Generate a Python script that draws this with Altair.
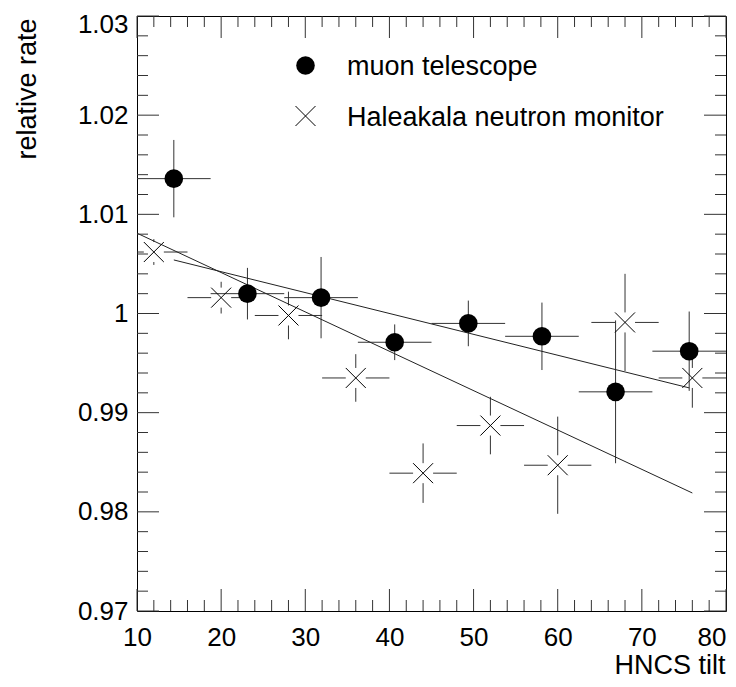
import altair as alt
import pandas as pd

# ---------------- data ----------------
muon_x = [14.375, 23.125, 31.875, 40.625, 49.375, 58.125, 66.875, 75.625]
muon_xerr = [4.375, 4.375, 4.375, 4.375, 4.375, 4.375, 4.375, 4.375]
muon_y = [1.0136, 1.0020, 1.0016, 0.9971, 0.9990, 0.9977, 0.9921, 0.9962]
muon_yerr = [0.0039, 0.0026, 0.0041, 0.0018, 0.0023, 0.0034, 0.0072, 0.0040]

neut_x = [12, 20, 28, 36, 44, 52, 60, 68, 76]
neut_xerr = [4, 4, 4, 4, 4, 4, 4, 4, 4]
neut_y = [1.0062, 1.0016, 0.9998, 0.9935, 0.9839, 0.9887, 0.9847, 0.9991, 0.9935]
neut_yerr = [0.0013, 0.0016, 0.0024, 0.0024, 0.0030, 0.0029, 0.0049, 0.0049, 0.0030]

fit_series = ["muon telescope", "Haleakala neutron monitor"]
fit_x0 = [14.375, 10.0]
fit_y0 = [1.0054, 1.0081]
fit_x1 = [75.625, 76.0]
fit_y1 = [0.9925, 0.9819]

x_major = [10, 20, 30, 40, 50, 60, 70, 80]
x_minor = [12, 14, 16, 18, 22, 24, 26, 28, 32, 34, 36, 38, 42, 44, 46, 48,
           52, 54, 56, 58, 62, 64, 66, 68, 72, 74, 76, 78]
y_major = [0.97, 0.98, 0.99, 1.00, 1.01, 1.02, 1.03]
y_minor = [0.972, 0.974, 0.976, 0.978, 0.982, 0.984, 0.986, 0.988,
           0.992, 0.994, 0.996, 0.998, 1.002, 1.004, 1.006, 1.008,
           1.012, 1.014, 1.016, 1.018, 1.022, 1.024, 1.026, 1.028]

legend_labels = ["muon telescope", "Haleakala neutron monitor"]
x_title = "HNCS tilt"
y_title = "relative rate"

# ---------------- styling ----------------
W, H = 589, 595
FONT = "Liberation Sans"
LINE = "#333333"
X_SHAPE = "M-1,-1L1,1M-1,1L1,-1"

muon = pd.DataFrame({"x": muon_x, "y": muon_y, "xe": muon_xerr, "ye": muon_yerr})
muon["xlo"] = muon["x"] - muon["xe"]
muon["xhi"] = muon["x"] + muon["xe"]
muon["ylo"] = muon["y"] - muon["ye"]
muon["yhi"] = muon["y"] + muon["ye"]

neut = pd.DataFrame({"x": neut_x, "y": neut_y, "xe": neut_xerr, "ye": neut_yerr})
neut["xlo"] = neut["x"] - neut["xe"]
neut["xhi"] = neut["x"] + neut["xe"]
neut["ylo"] = neut["y"] - neut["ye"]
neut["yhi"] = neut["y"] + neut["ye"]

fits = pd.DataFrame({"series": fit_series, "x": fit_x0, "y": fit_y0, "x1": fit_x1, "y1": fit_y1})

xs = alt.Scale(domain=[10, 80], nice=False, zero=False)
ys = alt.Scale(domain=[0.97, 1.03], nice=False, zero=False)

x_axis = alt.Axis(values=x_major, format="d", ticks=False, domain=False, grid=False,
                  labelPadding=13, labelFlush=False, labelOverlap=False, labelBound=False,
                  labelAlign=alt.condition("datum.value >= 80", alt.value("right"), alt.value("center")),
                  title=x_title, titleAnchor="end", titleAlign="right",
                  titleBaseline="alphabetic", titleX=W - 1, titleY=62)
y_axis = alt.Axis(values=y_major, format="~g", ticks=False, domain=False, grid=False,
                  labelPadding=9, labelFlush=False, labelOverlap=False, labelBound=False,
                  labelBaseline=alt.condition("datum.value >= 1.029", alt.value("top"), alt.value("middle")),
                  labelOffset=alt.condition("datum.value >= 1.029", alt.value(-5), alt.value(0)),
                  title=y_title, titleAngle=270, titleAlign="right",
                  titleBaseline="alphabetic", titleX=-102, titleY=2)

# muon telescope: error bars + filled circles (carries the axes)
muon_h = alt.Chart(muon).mark_rule(color=LINE, strokeWidth=1, clip=True).encode(
    x=alt.X("xlo:Q", scale=xs, axis=x_axis), x2="xhi:Q",
    y=alt.Y("y:Q", scale=ys, axis=y_axis))
muon_v = alt.Chart(muon).mark_rule(color=LINE, strokeWidth=1, clip=True).encode(
    x=alt.X("x:Q", scale=xs), y=alt.Y("ylo:Q", scale=ys), y2="yhi:Q")
muon_pts = alt.Chart(muon).mark_circle(size=346, color="black", opacity=1).encode(
    x=alt.X("x:Q", scale=xs), y=alt.Y("y:Q", scale=ys))

# neutron monitor: error bars with a gap around the x marker
GAP = 10
n_left = alt.Chart(neut).mark_rule(color=LINE, strokeWidth=1, clip=True, x2Offset=-GAP).encode(
    x=alt.X("xlo:Q", scale=xs), x2="x:Q", y=alt.Y("y:Q", scale=ys))
n_right = alt.Chart(neut).mark_rule(color=LINE, strokeWidth=1, clip=True, xOffset=GAP).encode(
    x=alt.X("x:Q", scale=xs), x2="xhi:Q", y=alt.Y("y:Q", scale=ys))
n_up = alt.Chart(neut).mark_rule(color=LINE, strokeWidth=1, clip=True, yOffset=-GAP).encode(
    x=alt.X("x:Q", scale=xs), y=alt.Y("y:Q", scale=ys), y2="yhi:Q")
n_down = alt.Chart(neut).mark_rule(color=LINE, strokeWidth=1, clip=True, yOffset=GAP).encode(
    x=alt.X("x:Q", scale=xs), y=alt.Y("y:Q", scale=ys), y2="ylo:Q")
neut_pts = alt.Chart(neut).mark_point(shape=X_SHAPE, size=400, filled=False, color="black",
                                      strokeWidth=1, opacity=1).encode(
    x=alt.X("x:Q", scale=xs), y=alt.Y("y:Q", scale=ys))

# fitted straight lines
fit_lines = alt.Chart(fits).mark_rule(color="#222222", strokeWidth=1, clip=True).encode(
    x=alt.X("x:Q", scale=xs), x2="x1:Q", y=alt.Y("y:Q", scale=ys), y2="y1:Q")

# inward ticks on all four sides (ROOT style)
def xticks(vals, y0, y1):
    return alt.Chart(pd.DataFrame({"x": vals})).mark_rule(color=LINE, strokeWidth=1).encode(
        x=alt.X("x:Q", scale=xs), y=alt.value(y0), y2=alt.value(y1))

def yticks(vals, x0, x1):
    return alt.Chart(pd.DataFrame({"y": vals})).mark_rule(color=LINE, strokeWidth=1).encode(
        y=alt.Y("y:Q", scale=ys), x=alt.value(x0), x2=alt.value(x1))

ticks = [
    xticks(x_major, H, H - 22), xticks(x_minor, H, H - 11),
    xticks(x_major, 0, 22), xticks(x_minor, 0, 11),
    yticks(y_major, 0, 22), yticks(y_minor, 0, 11),
    yticks(y_major, W, W - 22), yticks(y_minor, W, W - 11),
]

# legend
leg_circle = alt.Chart(pd.DataFrame({"label": [legend_labels[0]]})).mark_circle(
    size=346, color="black", opacity=1).encode(x=alt.value(168.5), y=alt.value(49.5))
leg_cross = alt.Chart(pd.DataFrame({"label": [legend_labels[1]]})).mark_point(
    shape=X_SHAPE, size=400, filled=False, color="black", strokeWidth=1, opacity=1).encode(
    x=alt.value(168.5), y=alt.value(100))
leg_t1 = alt.Chart(pd.DataFrame({"label": [legend_labels[0]]})).mark_text(
    align="left", baseline="alphabetic", font=FONT, fontSize=27, color="black").encode(
    text="label:N", x=alt.value(210), y=alt.value(59))
leg_t2 = alt.Chart(pd.DataFrame({"label": [legend_labels[1]]})).mark_text(
    align="left", baseline="alphabetic", font=FONT, fontSize=27, color="black").encode(
    text="label:N", x=alt.value(210), y=alt.value(110))

chart = alt.layer(
    muon_h, muon_v, n_left, n_right, n_up, n_down, fit_lines, *ticks,
    muon_pts, neut_pts, leg_circle, leg_cross, leg_t1, leg_t2,
).properties(
    width=W, height=H,
    padding={"left": 129, "top": 8, "right": 2, "bottom": 68},
    autosize=alt.AutoSizeParams(type="none"),
    background="white",
).configure_view(
    stroke="black", strokeWidth=1
).configure_axis(
    labelFont=FONT, labelFontSize=26, labelColor="black",
    titleFont=FONT, titleFontSize=27, titleFontWeight="normal", titleColor="black",
)

chart.save("out.html", embed_options={"renderer": "svg", "actions": False})
